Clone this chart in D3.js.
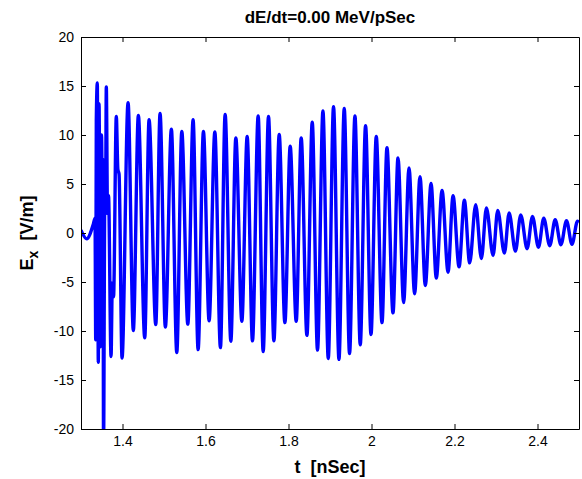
<!DOCTYPE html>
<head>
  <meta charset="utf-8">
  <script src="https://d3js.org/d3.v7.min.js"></script>
  <style>
    body { margin: 0; background: #fff; }
    svg { display: block; }
    text { font-family: "Liberation Sans", Arial, Helvetica, sans-serif; }
  </style>
</head>
<body>
  <svg width="582" height="479"></svg>
  <script>
    var width = 582;
    var height = 479;
    var margin = { top: 37, right: 3, bottom: 50, left: 81 };

    var title = 'dE/dt=0.00 MeV/pSec';
    var xTicks = [1.4, 1.6, 1.8, 2, 2.2, 2.4];
    var yTicks = [-20, -15, -10, -5, 0, 5, 10, 15, 20];

    // turning points of E_x (t in nSec, E in V/m)
    var tPts = [
      1.3000, 1.3137, 1.3297, 1.3338, 1.3355, 1.3369, 1.3393, 1.3417, 1.3434, 1.3470,
      1.3494, 1.3514, 1.3531, 1.3543, 1.3574, 1.3591, 1.3610, 1.3639, 1.3663, 1.3724,
      1.3755, 1.3784, 1.3851, 1.3888, 1.3917,
      1.3989, 1.4134, 1.4261, 1.4382, 1.4536, 1.4640, 1.4802, 1.4905, 1.5033, 1.5178,
      1.5308, 1.5429, 1.5574, 1.5701, 1.5822, 1.5950, 1.6087, 1.6225, 1.6360, 1.6473,
      1.6611, 1.6731, 1.6876, 1.7004, 1.7132, 1.7269, 1.7390, 1.7518, 1.7648, 1.7776,
      1.7913, 1.8041, 1.8186, 1.8306, 1.8444, 1.8572, 1.8699, 1.8830, 1.8958, 1.9085,
      1.9216, 1.9343, 1.9471, 1.9601, 1.9729, 1.9857, 1.9988, 2.0115, 2.0253, 2.0373,
      2.0518, 2.0639, 2.0774, 2.0904, 2.1039, 2.1169, 2.1297, 2.1435, 2.1562, 2.1700,
      2.1845, 2.1965, 2.2110, 2.2238, 2.2366, 2.2510, 2.2648, 2.2769, 2.2930, 2.3041,
      2.3203, 2.3316, 2.3468, 2.3596, 2.3750, 2.3878, 2.4023, 2.4151, 2.4295, 2.4426,
      2.4565, 2.4698, 2.4831, 2.4964, 2.5000
    ];
    var ePts = [
      0.3, -0.6, 0.9, 1.5, -10.9, 11.5, 15.3, -13.2, 13.2, -11.6,
      10.0, 4.0, 7.5, -22.0, 4.0, 2.0, 14.9, 2.0, 3.8, -12.6,
      -5.1, -6.5, 11.9, 6.5, 6.0,
      -12.75, 13.3, -9.95, 12.0, -10.7, 11.55, -9.35, 12.2, -9.6, 10.6,
      -12.2, 10.35, -9.3, 11.55, -11.9, 10.35, -8.95, 10.3, -11.7, 12.1,
      -11.05, 9.7, -9.0, 9.85, -11.0, 11.95, -12.1, 11.9, -11.0, 10.05,
      -9.15, 8.85, -9.0, 9.7, -10.45, 11.3, -11.95, 12.45, -12.8, 12.9,
      -12.9, 12.7, -12.3, 11.95, -11.4, 10.95, -10.35, 9.85, -9.15, 8.7,
      -8.15, 7.65, -7.1, 6.65, -6.2, 5.75, -5.35, 5.05, -4.6, 4.35,
      -4.0, 3.8, -3.45, 3.35, -3.05, 2.9, -2.6, 2.55, -2.3, 2.3,
      -2.05, 2.05, -1.85, 1.85, -1.6, 1.7, -1.45, 1.5, -1.3, 1.35,
      -1.2, 1.25, -1.15, 1.2, 1.1
    ];

    var data = tPts.map(function (t, i) { return { t: t, e: ePts[i] }; });

    var svg = d3.select('svg');
    svg.append('rect').attr('width', width).attr('height', height).attr('fill', '#fff');

    var x = d3.scaleLinear().domain([1.3, 2.5]).range([margin.left, width - margin.right]);
    var y = d3.scaleLinear().domain([-20, 20]).range([height - margin.bottom, margin.top]);

    svg.append('clipPath').attr('id', 'plot')
      .append('rect')
      .attr('x', margin.left).attr('y', margin.top)
      .attr('width', width - margin.left - margin.right)
      .attr('height', height - margin.top - margin.bottom);

    var line = d3.line()
      .x(function (d) { return x(d.t); })
      .y(function (d) { return y(d.e); })
      .curve(d3.curveMonotoneX);

    svg.append('path')
      .datum(data)
      .attr('clip-path', 'url(#plot)')
      .attr('fill', 'none')
      .attr('stroke', '#0000ff')
      .attr('stroke-width', 3.4)
      .attr('stroke-linejoin', 'round')
      .attr('d', line);

    // axes, ticks pointing inward on all four sides
    var fmt = function (d) { return String(d); };
    svg.append('g')
      .attr('transform', 'translate(0,' + (height - margin.bottom) + ')')
      .call(d3.axisBottom(x).tickValues(xTicks).tickFormat(fmt).tickSizeInner(-5).tickSizeOuter(0).tickPadding(7));
    svg.append('g')
      .attr('transform', 'translate(0,' + margin.top + ')')
      .call(d3.axisTop(x).tickValues(xTicks).tickFormat('').tickSizeInner(-5).tickSizeOuter(0));
    svg.append('g')
      .attr('transform', 'translate(' + margin.left + ',0)')
      .call(d3.axisLeft(y).tickValues(yTicks).tickFormat(fmt).tickSizeInner(-5).tickSizeOuter(0).tickPadding(7));
    svg.append('g')
      .attr('transform', 'translate(' + (width - margin.right) + ',0)')
      .call(d3.axisRight(y).tickValues(yTicks).tickFormat('').tickSizeInner(-5).tickSizeOuter(0));

    svg.selectAll('.domain, .tick line').attr('stroke', '#000');
    svg.selectAll('.tick text')
      .attr('fill', '#000')
      .style('font-size', '14px')
      .style('font-family', '"Liberation Sans", Arial, sans-serif');

    svg.append('text')
      .attr('x', (margin.left + width - margin.right) / 2)
      .attr('y', 23)
      .attr('text-anchor', 'middle')
      .style('font-size', '17px')
      .style('font-weight', 'bold')
      .text(title);

    svg.append('text')
      .attr('x', (margin.left + width - margin.right) / 2)
      .attr('y', 473)
      .attr('text-anchor', 'middle')
      .style('font-size', '18px')
      .style('font-weight', 'bold')
      .style('white-space', 'pre')
      .text('t  [nSec]');

    var ylab = svg.append('text')
      .attr('transform', 'translate(33,' + y(0) + ') rotate(-90)')
      .attr('text-anchor', 'middle')
      .style('font-size', '18px')
      .style('font-weight', 'bold')
      .style('white-space', 'pre');
    ylab.append('tspan').text('E');
    ylab.append('tspan').attr('dy', 5).style('font-size', '14px').text('x');
    ylab.append('tspan').attr('dy', -5).text('  [V/m]');
  </script>
</body>
